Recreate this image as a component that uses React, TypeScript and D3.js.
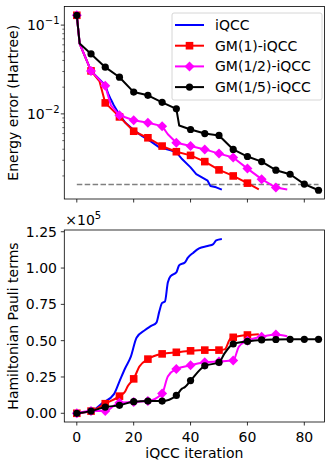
import React from "react";
import * as d3 from "d3";

// ---------- Data ----------
const seriesNames = ["iQCC", "GM(1)-iQCC", "GM(1/2)-iQCC", "GM(1/5)-iQCC"];
const seriesColors = ["#0000ff", "#ff0000", "#ff00ff", "#000000"];
const seriesMarkers = ["none", "square", "diamond", "circle"];

// Top panel: energy error (Hartree)
const blueIterE = [0, 1, 5, 10, 11, 12, 13, 15, 17, 20, 23, 26, 29, 33, 35, 37, 40, 42, 44, 46, 47, 49, 51];
const blueErr = [0.129, 0.062, 0.0305, 0.021, 0.017, 0.0145, 0.0125, 0.0098, 0.008, 0.0066, 0.0056, 0.0049, 0.0042, 0.0039, 0.0037, 0.0031, 0.0025, 0.0021, 0.00193, 0.00177, 0.00154, 0.00149, 0.0014];
const redIterE = [0, 1, 5, 8, 10, 15, 20, 25, 30, 35, 40, 45, 50, 55, 60, 64];
const redErr = [0.129, 0.062, 0.0305, 0.0232, 0.0133, 0.00925, 0.00638, 0.00538, 0.00434, 0.00375, 0.00341, 0.0029, 0.00234, 0.002, 0.00166, 0.00141];
const magIterE = [0, 1, 5, 10, 11, 12, 15, 20, 25, 30, 32, 35, 40, 45, 50, 55, 60, 65, 70, 74];
const magErr = [0.129, 0.062, 0.0305, 0.0207, 0.016, 0.0125, 0.00964, 0.00847, 0.00795, 0.00728, 0.0059, 0.00473, 0.00434, 0.00398, 0.00357, 0.00322, 0.00242, 0.00184, 0.00148, 0.00141];
const blkIterE = [0, 1, 5, 10, 15, 20, 25, 30, 35, 36, 40, 45, 50, 55, 60, 65, 70, 75, 80, 85];
const blkErr = [0.129, 0.062, 0.0473, 0.0336, 0.0259, 0.0176, 0.0162, 0.0135, 0.0114, 0.0074, 0.00667, 0.006, 0.00572, 0.00398, 0.00331, 0.0029, 0.00232, 0.00209, 0.00162, 0.00138];
const chemAcc = 0.0016;
const chemAccRange = [0, 85];

// Bottom panel: Hamiltonian Pauli terms (x1e5)
const blueIterT = [0, 5, 9, 13, 15, 17, 19, 21, 24, 26, 28, 29, 30, 31, 32, 33, 35, 36, 38, 39, 41, 43, 46, 48, 49, 51];
const blueTerms = [0, 0.015, 0.07, 0.13, 0.22, 0.31, 0.39, 0.52, 0.573, 0.6, 0.625, 0.7, 0.76, 0.77, 0.9, 0.945, 0.97, 1.02, 1.038, 1.07, 1.106, 1.135, 1.152, 1.165, 1.19, 1.2];
const redIterT = [0, 5, 10, 15, 17, 18, 20, 22, 25, 30, 35, 40, 45, 50, 52, 54, 55, 60, 64];
const redTerms = [0, 0.015, 0.066, 0.118, 0.15, 0.19, 0.237, 0.322, 0.373, 0.409, 0.42, 0.43, 0.435, 0.435, 0.44, 0.515, 0.523, 0.539, 0.545];
const magIterT = [0, 5, 10, 15, 20, 25, 30, 32, 35, 40, 45, 50, 55, 57, 60, 65, 70, 74];
const magTerms = [0, 0.015, 0.016, 0.073, 0.078, 0.084, 0.136, 0.254, 0.305, 0.33, 0.352, 0.357, 0.363, 0.459, 0.5, 0.527, 0.543, 0.53];
const blkIterT = [0, 5, 10, 15, 20, 25, 30, 35, 37, 38, 40, 45, 50, 52, 55, 60, 65, 70, 75, 80, 85];
const blkTerms = [0, 0.015, 0.043, 0.055, 0.08, 0.084, 0.084, 0.123, 0.17, 0.18, 0.225, 0.327, 0.35, 0.414, 0.477, 0.495, 0.505, 0.508, 0.509, 0.509, 0.509];

const xTicks = [0, 20, 40, 60, 80];
const yTicksTerms = [0, 0.25, 0.5, 0.75, 1.0, 1.25];
const yMajorErr = [0.1, 0.01];
const yMinorErr = [0.002, 0.003, 0.004, 0.005, 0.006, 0.007, 0.008, 0.009, 0.02, 0.03, 0.04, 0.05, 0.06, 0.07, 0.08, 0.09];

const energySeries = [
  [blueIterE, blueErr],
  [redIterE, redErr],
  [magIterE, magErr],
  [blkIterE, blkErr],
];
const termSeries = [
  [blueIterT, blueTerms],
  [redIterT, redTerms],
  [magIterT, magTerms],
  [blkIterT, blkTerms],
];

// ---------- Layout ----------
const FONT = "DejaVu Sans, sans-serif";
const FS = 14;
const L = 64.3, R = 324.5;
const topT = 6.5, topB = 199;
const botT = 230, botB = 422;

const x = d3.scaleLinear().domain([-4.4, 87.1]).range([L, R]);
const yE = d3.scaleLog().domain([0.0011, 0.162]).range([topB, topT]);
const yT = d3.scaleLinear().domain([-0.06, 1.262]).range([botB, botT]);

function Marker({ type, cx, cy, color }: { type: string; cx: number; cy: number; color: string }) {
  if (type === "square") return <rect x={cx - 3.8} y={cy - 3.8} width={7.6} height={7.6} fill={color} />;
  if (type === "diamond")
    return <path d={`M${cx},${cy - 5}L${cx + 5},${cy}L${cx},${cy + 5}L${cx - 5},${cy}Z`} fill={color} />;
  if (type === "circle") return <circle cx={cx} cy={cy} r={3.6} fill={color} />;
  return null;
}

function Pow({ x0, y0, base, exp, anchor }: { x0: number; y0: number; base: string; exp: string; anchor: string }) {
  return (
    <text x={x0} y={y0} fontSize={FS} fontFamily={FONT} textAnchor={anchor} fill="#000">
      {base}
      <tspan dy={-6} fontSize={10}>{exp}</tspan>
    </text>
  );
}

export default function App() {
  const lineE = (xs: number[], ys: number[]) =>
    d3.line<number>().x((_, i) => x(xs[i])).y((_, i) => yE(ys[i]))(xs) || "";
  const lineT = (xs: number[], ys: number[]) =>
    d3.line<number>().curve(d3.curveMonotoneX).x((_, i) => x(xs[i])).y((_, i) => yT(ys[i]))(xs) || "";

  const legX = 172, legY = 13, legW = 150, legH = 87;

  return (
    <svg width={332} height={467} style={{ position: "absolute", left: 0, top: 0 }}>
      <rect x={0} y={0} width={332} height={467} fill="#fff" />
      {/* ---------------- Top panel ---------------- */}
      <g>
        <line x1={x(chemAccRange[0])} x2={x(chemAccRange[1])} y1={yE(chemAcc)} y2={yE(chemAcc)}
          stroke="#808080" strokeWidth={1.5} strokeDasharray="5.5,2.4" />
        {energySeries.map(([xs, ys], s) => (
          <g key={s}>
            <path d={lineE(xs, ys)} fill="none" stroke={seriesColors[s]} strokeWidth={2} strokeLinejoin="round" />
            {xs.map((xv, i) =>
              xv % 5 === 0 ? (
                <Marker key={i} type={seriesMarkers[s]} cx={x(xv)} cy={yE(ys[i])} color={seriesColors[s]} />
              ) : null
            )}
          </g>
        ))}
        <rect x={L} y={topT} width={R - L} height={topB - topT} fill="none" stroke="#000" strokeWidth={0.8} />
        {xTicks.map((t) => (
          <line key={t} x1={x(t)} x2={x(t)} y1={topB} y2={topB + 3.5} stroke="#000" strokeWidth={0.8} />
        ))}
        {yMajorErr.map((t) => (
          <g key={t}>
            <line x1={L - 3.5} x2={L} y1={yE(t)} y2={yE(t)} stroke="#000" strokeWidth={0.8} />
            <Pow x0={59.5} y0={yE(t) + 5} base="10" exp={"\u2212" + Math.round(-Math.log10(t))} anchor="end" />
          </g>
        ))}
        {yMinorErr.map((t) =>
          yE(t) > topT && yE(t) < topB ? (
            <line key={t} x1={L - 2} x2={L} y1={yE(t)} y2={yE(t)} stroke="#000" strokeWidth={0.6} />
          ) : null
        )}
        <text transform={`translate(17.5,${(topT + topB) / 2}) rotate(-90)`} textAnchor="middle"
          fontSize={FS} fontFamily={FONT} fill="#000">Energy error (Hartree)</text>

        {/* Legend */}
        <rect x={legX} y={legY} width={legW} height={legH} rx={2} fill="#fff" fillOpacity={0.8} stroke="#ccc" strokeWidth={0.8} />
        {seriesNames.map((n, s) => {
          const cy = legY + 12 + s * 20.7;
          return (
            <g key={n}>
              <line x1={legX + 3} x2={legX + 32} y1={cy} y2={cy} stroke={seriesColors[s]} strokeWidth={2} />
              <Marker type={seriesMarkers[s]} cx={legX + 17.5} cy={cy} color={seriesColors[s]} />
              <text x={legX + 43} y={cy + 5} fontSize={FS} fontFamily={FONT} fill="#000">{n}</text>
            </g>
          );
        })}
      </g>

      {/* ---------------- Bottom panel ---------------- */}
      <g>
        {termSeries.map(([xs, ys], s) => (
          <g key={s}>
            <path d={lineT(xs, ys)} fill="none" stroke={seriesColors[s]} strokeWidth={2} strokeLinejoin="round" />
            {xs.map((xv, i) =>
              xv % 5 === 0 ? (
                <Marker key={i} type={seriesMarkers[s]} cx={x(xv)} cy={yT(ys[i])} color={seriesColors[s]} />
              ) : null
            )}
          </g>
        ))}
        <rect x={L} y={botT} width={R - L} height={botB - botT} fill="none" stroke="#000" strokeWidth={0.8} />
        {xTicks.map((t) => (
          <g key={t}>
            <line x1={x(t)} x2={x(t)} y1={botB} y2={botB + 3.5} stroke="#000" strokeWidth={0.8} />
            <text x={x(t)} y={botB + 20} textAnchor="middle" fontSize={FS} fontFamily={FONT} fill="#000">{t}</text>
          </g>
        ))}
        {yTicksTerms.map((t) => (
          <g key={t}>
            <line x1={L - 3.5} x2={L} y1={yT(t)} y2={yT(t)} stroke="#000" strokeWidth={0.8} />
            <text x={57} y={yT(t) + 5} textAnchor="end" fontSize={FS} fontFamily={FONT} fill="#000">{t.toFixed(2)}</text>
          </g>
        ))}
        <Pow x0={L + 1} y0={botT - 5} base={"\u00d710"} exp="5" anchor="start" />
        <text transform={`translate(17.5,${(botT + botB) / 2}) rotate(-90)`} textAnchor="middle"
          fontSize={FS} fontFamily={FONT} fill="#000">Hamiltonian Pauli terms</text>
        <text x={(L + R) / 2} y={botB + 36} textAnchor="middle" fontSize={FS} fontFamily={FONT} fill="#000">iQCC iteration</text>
      </g>
    </svg>
  );
}
